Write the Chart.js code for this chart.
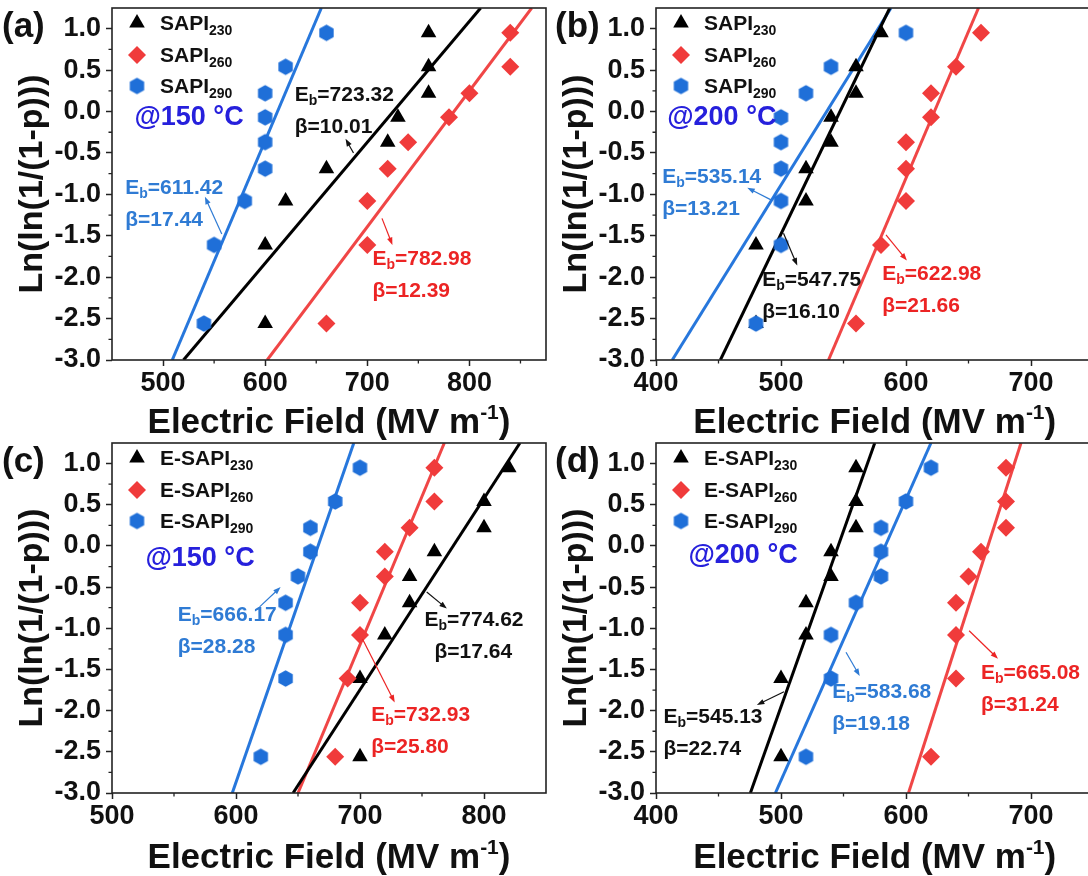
<!DOCTYPE html>
<html>
<head>
<meta charset="utf-8">
<script src="https://cdn.jsdelivr.net/npm/chart.js@4.4.1/dist/chart.umd.min.js"></script>
<style>
  body { margin: 0; width: 1088px; height: 876px; overflow: hidden; background: #fff; position: relative; }
  canvas { position: absolute; }
</style>
</head>
<body>
<canvas id="pa" width="560" height="441" style="left:0;top:0"></canvas>
<canvas id="pb" width="560" height="441" style="left:544px;top:0"></canvas>
<canvas id="pc" width="560" height="441" style="left:0;top:435px"></canvas>
<canvas id="pd" width="560" height="441" style="left:544px;top:435px"></canvas>
<script>
//// data
// Weibull plotting positions, shared by every series (9 samples)
const lnlnY = [-2.56, -1.61, -1.08, -0.69, -0.37, -0.07, 0.22, 0.54, 0.95];
const fitY = [-3, 1.25];
const sizes = ['230', '260', '290'];

// (a) SAPI @150 °C
const aX230 = [600, 600, 620, 660, 720, 730, 760, 760, 760];
const aX260 = [660, 700, 700, 720, 740, 780, 800, 840, 840];
const aX290 = [540, 550, 580, 600, 600, 600, 600, 620, 660];
const aFit230 = [520, 811];
const aFit260 = [602, 861];
const aFit290 = [509, 655];
const aEb = [723.32, 782.98, 611.42];
const aBeta = [10.01, 12.39, 17.44];
const aXTicks = [500, 600, 700, 800];
const aXMinor = [550, 650, 750, 850];

// (b) SAPI @200 °C
const bX230 = [480, 480, 520, 520, 540, 540, 560, 560, 580];
const bX260 = [560, 580, 600, 600, 600, 620, 620, 640, 660];
const bX290 = [480, 500, 500, 500, 500, 500, 520, 540, 600];
const bFit230 = [451.5, 587];
const bFit260 = [538, 658];
const bFit290 = [413, 588];
const bEb = [547.75, 622.98, 535.14];
const bBeta = [16.10, 21.66, 13.21];
const bXTicks = [400, 500, 600, 700];
const bXMinor = [450, 550, 650];

// (c) E-SAPI @150 °C
const cX230 = [700, 700, 720, 740, 740, 760, 800, 800, 820];
const cX260 = [680, 690, 700, 700, 720, 720, 740, 760, 760];
const cX290 = [620, 640, 640, 640, 650, 660, 660, 680, 700];
const cFit230 = [646, 829];
const cFit260 = [650, 768];
const cFit290 = [597, 695];
const cEb = [774.62, 732.93, 666.17];
const cBeta = [17.64, 25.80, 28.28];
const cXTicks = [500, 600, 700, 800];
const cXMinor = [550, 650, 750];

// (d) E-SAPI @200 °C
const dX230 = [500, 500, 520, 520, 540, 540, 560, 560, 560];
const dX260 = [620, 640, 640, 640, 650, 660, 680, 680, 680];
const dX290 = [520, 540, 540, 560, 580, 580, 580, 600, 620];
const dFit230 = [475.5, 575];
const dFit260 = [602, 692];
const dFit290 = [495.5, 620];
const dEb = [545.13, 665.08, 583.68];
const dBeta = [22.74, 31.24, 19.18];
const dXTicks = [400, 500, 600, 700];
const dXMinor = [450, 550, 650];

const yTicks = [-3, -2.5, -2, -1.5, -1, -0.5, 0, 0.5, 1];
const yMinor = [-2.75, -2.25, -1.75, -1.25, -0.75, -0.25, 0.25, 0.75];


//// styles
const FONT = "'Liberation Sans', Arial, Helvetica, sans-serif";
const BLACK = '#000000', RED = '#f03b3b', BLUE = '#1f6fd8';
const TEMP_BLUE = '#2620dc';

// hexagon marker (no hexagon pointStyle in chart.js, so use a small canvas)
function hexagon(color, r) {
    const c = document.createElement('canvas');
    const s = Math.ceil(r * 2 + 2);
    c.width = s; c.height = s;
    const g = c.getContext('2d');
    g.fillStyle = color;
    g.beginPath();
    for (let k = 0; k < 6; k++) {
        const a = -Math.PI / 2 + Math.PI / 3 * k;
        g.lineTo(s / 2 + r * Math.cos(a), s / 2 + r * Math.sin(a));
    }
    g.closePath();
    g.fill();
    return c;
}

const styles = [
    { marker: 'triangle', radius: 9, fill: BLACK, line: '#000', text: '#111' },
    { marker: 'rectRot', radius: 9, fill: RED, line: '#f04646', text: '#ec2424' },
    { marker: hexagon(BLUE, 8.3), radius: 8.3, fill: BLUE, line: '#2777dc', text: '#2f7bd4' }
];


//// panels
const panels = [
    {
        id: 'pa', tag: '(a)', tagX: 2, prefix: 'SAPI', temp: '@150 °C', tempAt: [472, -0.07],
        xMin: 450, xMax: 875, xTicks: aXTicks, xMinor: aXMinor, bottom: 360, padRight: 14,
        xs: [aX230, aX260, aX290], fits: [aFit230, aFit260, aFit290], eb: aEb, beta: aBeta,
        notes: [
            { at: [629, 0.20], arrow: [686.5, -0.50, 678.7, -0.33] },
            { at: [705, -1.78], arrow: [714.4, -1.29, 724.6, -1.61] },
            { at: [463, -0.93], arrow: [557.5, -1.48, 541, -1.03] }
        ]
    },
    {
        id: 'pb', tag: '(b)', tagX: 11, prefix: 'SAPI', temp: '@200 °C', tempAt: [409, -0.07],
        xMin: 400, xMax: 750, xTicks: bXTicks, xMinor: bXMinor, bottom: 360, padRight: 10.5,
        xs: [bX230, bX260, bX290], fits: [bFit230, bFit260, bFit290], eb: bEb, beta: bBeta,
        notes: [
            { at: [485, -2.04], arrow: [502, -1.47, 513, -1.86] },
            { at: [581, -1.96], arrow: [584, -1.49, 600.7, -1.80] },
            { at: [405, -0.79], arrow: [492.4, -1.07, 473, -0.92] }
        ]
    },
    {
        id: 'pc', tag: '(c)', tagX: 2, prefix: 'E-SAPI', temp: '@150 °C', tempAt: [527, -0.15],
        xMin: 500, xMax: 850, xTicks: cXTicks, xMinor: cXMinor, bottom: 358, padRight: 14,
        xs: [cX230, cX260, cX290], fits: [cFit230, cFit260, cFit290], eb: cEb, beta: cBeta,
        notes: [
            { at: [752, -0.90], arrow: [753.8, -0.56, 770, -0.76], indent: 10 },
            { at: [709, -2.06], arrow: [702, -1.13, 728, -1.90] },
            { at: [553, -0.84], arrow: [619, -0.74, 636, -0.50] }
        ]
    },
    {
        id: 'pd', tag: '(d)', tagX: 11, prefix: 'E-SAPI', temp: '@200 °C', tempAt: [426, -0.12],
        xMin: 400, xMax: 750, xTicks: dXTicks, xMinor: dXMinor, bottom: 358, padRight: 10.5,
        xs: [dX230, dX260, dX290], fits: [dFit230, dFit260, dFit290], eb: dEb, beta: dBeta,
        notes: [
            { at: [406, -2.08], arrow: [502.4, -1.77, 480.7, -1.93] },
            { at: [660, -1.54], arrow: [650.5, -1.03, 673.6, -1.37] },
            { at: [541, -1.77], arrow: [552, -1.29, 563, -1.58] }
        ]
    }
];


// draws text pieces one after another (for sub/superscripts)
function pieces(ctx, parts, x, y, measureOnly) {
    let cx = x;
    parts.forEach(p => {
        ctx.font = `bold ${p.size}px ${FONT}`;
        if (!measureOnly) ctx.fillText(p.t, cx, y + (p.dy || 0));
        cx += ctx.measureText(p.t).width;
    });
    return cx - x;
}

function arrow(ctx, x1, y1, x2, y2, color) {
    const ang = Math.atan2(y2 - y1, x2 - x1);
    ctx.strokeStyle = color;
    ctx.fillStyle = color;
    ctx.lineWidth = 1.2;
    ctx.beginPath();
    ctx.moveTo(x1, y1);
    ctx.lineTo(x2 - 5 * Math.cos(ang), y2 - 5 * Math.sin(ang));
    ctx.stroke();
    ctx.beginPath();
    ctx.moveTo(x2, y2);
    ctx.lineTo(x2 - 8 * Math.cos(ang - 0.35), y2 - 8 * Math.sin(ang - 0.35));
    ctx.lineTo(x2 - 8 * Math.cos(ang + 0.35), y2 - 8 * Math.sin(ang + 0.35));
    ctx.closePath();
    ctx.fill();
}

function decor(p) {
    return {
        id: 'decor',
        afterDatasetsDraw(chart) {
            const { ctx, chartArea: a, scales: { x, y } } = chart;
            ctx.save();
            ctx.strokeStyle = '#222';
            ctx.lineWidth = 1.6;
            ctx.strokeRect(a.left, a.top, a.right - a.left, a.bottom - a.top);
            // minor ticks
            ctx.lineWidth = 1.3;
            ctx.beginPath();
            p.xMinor.forEach(v => {
                const px = x.getPixelForValue(v);
                ctx.moveTo(px, a.bottom);
                ctx.lineTo(px, a.bottom + 3.5);
            });
            yMinor.forEach(v => {
                const py = y.getPixelForValue(v);
                ctx.moveTo(a.left, py);
                ctx.lineTo(a.left - 3.5, py);
            });
            ctx.stroke();
            ctx.restore();
        },
        afterDraw(chart) {
            const { ctx, chartArea: a, scales: { x, y } } = chart;
            ctx.save();
            ctx.textBaseline = 'alphabetic';
            ctx.fillStyle = '#111';

            // panel letter
            ctx.font = `bold 35px ${FONT}`;
            ctx.textAlign = 'left';
            ctx.fillText(p.tag, p.tagX, 37);

            // y title
            ctx.save();
            ctx.translate(33, (a.top + a.bottom) / 2);
            ctx.rotate(-Math.PI / 2);
            ctx.textAlign = 'center';
            ctx.textBaseline = 'middle';
            ctx.font = `bold 34px ${FONT}`;
            ctx.fillText('Ln(ln(1/(1-p)))', 0, 0);
            ctx.restore();

            // x title with superscript
            const xt = [
                { t: 'Electric Field (MV m', size: 35 },
                { t: '-1', size: 21, dy: -14 },
                { t: ')', size: 35 }
            ];
            const w = pieces(ctx, xt, 0, 0, true);
            pieces(ctx, xt, (a.left + a.right) / 2 - w / 2, 433);

            // legend
            styles.forEach((s, i) => {
                const ry = a.top + [15, 47, 78][i];
                ctx.fillStyle = s.fill;
                Chart.helpers.drawPoint(ctx, { pointStyle: s.marker, radius: s.radius, rotation: 0, borderWidth: 0 }, a.left + 25, ry);
                ctx.fillStyle = '#111';
                ctx.textBaseline = 'middle';
                pieces(ctx, [
                    { t: p.prefix, size: 21 },
                    { t: sizes[i], size: 14, dy: 7 }
                ], a.left + 48, ry + 1);
            });

            // temperature
            ctx.fillStyle = TEMP_BLUE;
            ctx.font = `bold 27px ${FONT}`;
            ctx.textBaseline = 'middle';
            ctx.fillText(p.temp, x.getPixelForValue(p.tempAt[0]), y.getPixelForValue(p.tempAt[1]));

            // Eb / beta notes with arrows
            p.notes.forEach((n, i) => {
                const col = styles[i].text;
                const px = x.getPixelForValue(n.at[0]);
                const py = y.getPixelForValue(n.at[1]);
                ctx.fillStyle = col;
                ctx.textBaseline = 'middle';
                pieces(ctx, [
                    { t: 'E', size: 21 },
                    { t: 'b', size: 14, dy: 6 },
                    { t: '=' + p.eb[i].toFixed(2), size: 21 }
                ], px, py);
                pieces(ctx, [{ t: 'β=' + p.beta[i].toFixed(2), size: 21 }], px + (n.indent || 0), py + 32);
                const [x1, y1, x2, y2] = n.arrow;
                arrow(ctx, x.getPixelForValue(x1), y.getPixelForValue(y1),
                    x.getPixelForValue(x2), y.getPixelForValue(y2), col);
            });
            ctx.restore();
        }
    };
}

// keep the plot frame fixed: no extra room for overhanging tick labels
function noOverhang(s) {
    s.paddingTop = 0;
    s.paddingBottom = 0;
    s.paddingLeft = 0;
    s.paddingRight = 0;
}

function makePanel(p) {
    const datasets = [];
    // fitted lines
    p.fits.forEach((f, i) => {
        datasets.push({
            type: 'line',
            data: f.map((v, k) => ({ x: v, y: fitY[k] })),
            borderColor: styles[i].line,
            borderWidth: 3,
            pointRadius: 0,
            fill: false,
            order: 10
        });
    });
    // measured points; blue drawn last so it sits on top
    p.xs.forEach((xs, i) => {
        datasets.push({
            type: 'scatter',
            label: p.prefix + sizes[i],
            data: xs.map((v, k) => ({ x: v, y: lnlnY[k] })),
            pointStyle: styles[i].marker,
            pointRadius: styles[i].radius,
            backgroundColor: styles[i].fill,
            borderWidth: 0,
            order: 3 - i
        });
    });

    const tickFont = { family: FONT, size: 27, weight: 'bold' };
    const gridOpts = { drawOnChartArea: false, drawTicks: true, tickLength: 6, tickWidth: 1.5, tickColor: '#222' };

    return new Chart(document.getElementById(p.id), {
        type: 'scatter',
        data: { datasets },
        options: {
            responsive: false,
            animation: false,
            events: [],
            layout: { autoPadding: false, padding: { left: 0, top: 8, right: p.padRight, bottom: 0 } },
            plugins: { legend: { display: false }, tooltip: { enabled: false } },
            scales: {
                x: {
                    type: 'linear',
                    min: p.xMin,
                    max: p.xMax,
                    afterBuildTicks: s => { s.ticks = p.xTicks.map(v => ({ value: v })); },
                    afterFit: s => { s.height = 441 - p.bottom; noOverhang(s); },
                    grid: gridOpts,
                    border: { display: false },
                    ticks: { font: tickFont, color: '#111', padding: 1, maxRotation: 0, autoSkip: false }
                },
                y: {
                    type: 'linear',
                    min: -3,
                    max: 1.25,
                    afterBuildTicks: s => { s.ticks = yTicks.map(v => ({ value: v })); },
                    afterFit: s => { s.width = 112; noOverhang(s); },
                    grid: gridOpts,
                    border: { display: false },
                    ticks: {
                        font: tickFont,
                        color: '#111',
                        padding: 5,
                        callback: v => v.toFixed(1)
                    }
                }
            }
        },
        plugins: [decor(p)]
    });
}

panels.forEach(makePanel);
</script>
</body>
</html>
